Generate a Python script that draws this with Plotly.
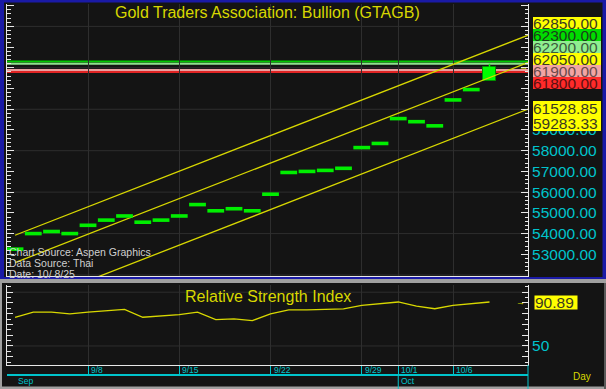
import plotly.graph_objects as go

W, H = 606, 389

# ---------------- data ----------------
dates = ['9/2', '9/3', '9/4', '9/5', '9/8', '9/9', '9/10', '9/11', '9/12',
         '9/15', '9/16', '9/17', '9/18', '9/19', '9/22', '9/23', '9/24', '9/25',
         '9/26', '9/29', '9/30', '10/1', '10/2', '10/3', '10/6', '10/7', '10/8']
open_ = [53250, 54000, 54100, 54000, 54400, 54650, 54850, 54550, 54650,
         54850, 55400, 55100, 55200, 55100, 55900, 56950, 57000, 57050,
         57150, 58150, 58350, 59550, 59400, 59200, 60450, 60950, 61350]
close = [53250, 54000, 54100, 54000, 54400, 54650, 54850, 54550, 54650,
         54850, 55400, 55100, 55200, 55100, 55900, 56950, 57000, 57050,
         57150, 58150, 58350, 59550, 59400, 59200, 60450, 60950, 62050]
high = [53250, 54000, 54100, 54000, 54400, 54650, 54850, 54550, 54650,
        54850, 55400, 55100, 55200, 55100, 55900, 56950, 57000, 57050,
        57150, 58150, 58350, 59550, 59400, 59200, 60450, 60950, 62200]
rsi = [76.7, 81.4, 81.4, 79.9, 81.4, 83.0, 84.0, 76.7, 77.7, 79.2, 81.4,
       74.5, 75.2, 73.6, 79.9, 83.6, 83.6, 84.0, 84.5, 87.7, 89.3, 90.9,
       87.1, 84.6, 87.7, 89.3, 90.89]

tick_dates = ['9/8', '9/15', '9/22', '9/29', '10/1', '10/6']
month_labels = ['Sep', 'Oct']
month_starts = ['9/2', '10/1']

level_values = [62300, 62200, 61900, 61800]
stack_values = [62850, 62300, 62200, 62050, 61900, 61800, 61528.85, 59283.33]
channel_upper_last = 62850
channel_mid_last = 61528.85
channel_lower_last = 59283.33
channel_slope = 343.5  # price per bar

price_ticks = list(range(52000, 65001, 1000))
price_labelled = list(range(53000, 59001, 1000))
price_grid = list(range(52000, 65001, 2000))
rsi_ticks = list(range(40, 101, 10))
rsi_labelled = [50]
rsi_grid = [50, 100]

title_text = 'Gold Traders Association: Bullion (GTAGB)'
rsi_title_text = 'Relative Strength Index'
source_lines = ['Chart Source: Aspen Graphics', 'Data Source: Thai', 'Date: 10/ 8/25']

# ---------------- styles ----------------
BG = '#141414'
GRID = '#2e2e2e'
YEL = '#d8d800'
CYAN = '#00c4cc'
GREEN = '#00ee00'
FONT = 'Liberation Sans, Arial, sans-serif'
level_colors = ['#00c800', '#8fe08f', '#e8a0a0', '#e02424']
stack_bg = ['#ffff00', '#00dc00', '#90ee90', '#ffff00', '#f2a4a4', '#ff2a2a', '#ffff00', '#ffff00']
stack_fg = ['#3a3a20', '#1c3c1c', '#3c5a3c', '#3a3a20', '#6a4a4a', '#5a1010', '#3a3a20', '#3a3a20']
stack_y = [22.7, 34.8, 46.8, 58.8, 70.8, 82.8, 108.5, 123.5]
stack_h = [12, 12, 12, 12, 12, 12, 15, 15]


def px(x):
    return x / W


def py(y):
    return 1 - y / H


X_RANGE = [-0.44, 28.11]
P_RANGE = [51953, 65080]
R_RANGE = [32.3, 106.7]

idx = list(range(len(dates)))
last = len(dates) - 1

fig = go.Figure()

# regression channel
for lv in (channel_upper_last, channel_mid_last, channel_lower_last):
    xs = [0, X_RANGE[1] + 0.2]
    ys = [lv - channel_slope * (last - xx) for xx in xs]
    fig.add_trace(go.Scatter(x=xs, y=ys, mode='lines',
                             line=dict(color=YEL, width=1.3),
                             xaxis='x', yaxis='y', hoverinfo='skip'))

# flat days drawn as dashes
flat = [i for i in idx if open_[i] == close[i]]
fig.add_trace(go.Scatter(x=flat, y=[close[i] for i in flat], mode='markers',
                         marker=dict(symbol='line-ew', size=12,
                                     line=dict(width=3.6, color=GREEN)),
                         xaxis='x', yaxis='y'))

# days with a range drawn as boxes + wick
moving = [i for i in idx if open_[i] != close[i]]
for i in moving:
    fig.add_trace(go.Scatter(x=[i, i], y=[max(open_[i], close[i]), high[i]],
                             mode='lines', line=dict(color='#00ff00', width=1.5),
                             xaxis='x', yaxis='y'))
fig.add_trace(go.Bar(x=moving, base=[min(open_[i], close[i]) for i in moving],
                     y=[abs(close[i] - open_[i]) for i in moving], width=0.68,
                     marker=dict(color='#00ff00', line=dict(color='#009000', width=1)),
                     xaxis='x', yaxis='y'))

# RSI
fig.add_trace(go.Scatter(x=idx, y=rsi, mode='lines',
                         line=dict(color=YEL, width=1.3),
                         xaxis='x2', yaxis='y2'))

tickpos = [dates.index(d) for d in tick_dates]

shapes = []
for v in price_grid:
    shapes.append(dict(type='line', xref='x domain', yref='y', x0=0, x1=1, y0=v, y1=v,
                       line=dict(color=GRID, width=1), layer='below'))
for v in rsi_grid:
    shapes.append(dict(type='line', xref='x2 domain', yref='y2', x0=0, x1=1, y0=v, y1=v,
                       line=dict(color=GRID, width=1), layer='below'))
for v, c in zip(level_values, level_colors):
    shapes.append(dict(type='line', xref='x domain', yref='y', x0=0, x1=1, y0=v, y1=v,
                       line=dict(color=c, width=2), layer='below'))


def rect(x0, y0, x1, y1, color):
    return dict(type='rect', xref='paper', yref='paper', x0=px(x0), x1=px(x1),
                y0=py(y1), y1=py(y0), fillcolor=color, line=dict(width=0))


BLUE = '#1a1aa6'
shapes += [rect(0, 0, 4, 279, BLUE), rect(0, 0, 606, 2.5, BLUE),
           rect(602.5, 0, 606, 279, BLUE), rect(0, 277, 606, 279, BLUE),
           rect(0, 279, 606, 283, '#a0a0a0'),
           rect(0, 283, 2, 389, '#a0a0a0'), rect(0, 386.5, 606, 389, '#a0a0a0'),
           rect(604, 283, 606, 389, '#5a5a5a')]
# time axis decorations
shapes.append(dict(type='line', xref='paper', yref='paper', x0=px(7), x1=px(528),
                   y0=py(375), y1=py(375), line=dict(color=CYAN, width=2)))
shapes.append(dict(type='line', xref='paper', yref='paper', x0=px(528), x1=px(528),
                   y0=py(365), y1=py(389), line=dict(color=CYAN, width=1)))
for m in month_starts[1:]:
    shapes.append(dict(type='line', xref='x2', yref='paper', x0=dates.index(m), x1=dates.index(m),
                       y0=py(375), y1=py(389), line=dict(color=CYAN, width=1)))

ann = []
ann.append(dict(text=title_text, xref='paper', yref='paper', x=px(267.5), y=py(13),
                xanchor='center', yanchor='middle', showarrow=False,
                font=dict(family=FONT, size=16, color=YEL)))
ann.append(dict(text=rsi_title_text, xref='paper', yref='paper', x=px(267.5), y=py(296),
                xanchor='center', yanchor='middle', showarrow=False,
                font=dict(family=FONT, size=16, color=YEL)))
for k, t in enumerate(source_lines):
    ann.append(dict(text=t, xref='paper', yref='paper', x=px(7), y=py(251.5 + 11 * k),
                    xanchor='left', yanchor='middle', showarrow=False,
                    font=dict(family=FONT, size=10.5, color='#d0d0d0')))
for v, bg, fg, yc, h in zip(stack_values, stack_bg, stack_fg, stack_y, stack_h):
    ann.append(dict(text=f'{v:.2f}', xref='paper', yref='paper', x=px(533), y=py(yc),
                    xanchor='left', yanchor='middle', showarrow=False, align='left',
                    width=68, height=h, bgcolor=bg, borderpad=0, borderwidth=0,
                    font=dict(family=FONT, size=15.5, color=fg)))
ann.append(dict(text=f'{rsi[-1]:.2f}', xref='paper', yref='y2', x=px(533.5), y=rsi[-1],
                xanchor='left', yanchor='middle', showarrow=False, align='left',
                width=42, height=13, bgcolor='#ffff00', borderpad=0,
                font=dict(family=FONT, size=15.5, color='#3a3a20')))
ann.append(dict(text='→', xref='paper', yref='y2', x=px(520), y=rsi[-1],
                xanchor='center', yanchor='middle', showarrow=False,
                font=dict(family=FONT, size=9, color=YEL)))
ann.append(dict(text='→', xref='paper', yref='y', x=px(523), y=close[-1],
                xanchor='center', yanchor='middle', showarrow=False,
                font=dict(family=FONT, size=9, color=YEL)))
for d, p in zip(tick_dates, tickpos):
    ann.append(dict(text=d, xref='x2', yref='paper', x=p, y=py(370), xshift=1,
                    xanchor='left', yanchor='middle', showarrow=False,
                    font=dict(family=FONT, size=8.5, color=CYAN)))
for m, s in zip(month_labels, month_starts):
    ann.append(dict(text=m, xref='x2', yref='paper', x=dates.index(s), y=py(381), xshift=1,
                    xanchor='left', yanchor='middle', showarrow=False,
                    font=dict(family=FONT, size=8.5, color=CYAN)))
ann.append(dict(text='Day', xref='paper', yref='paper', x=px(582), y=py(376.5),
                xanchor='center', yanchor='middle', showarrow=False,
                font=dict(family=FONT, size=10, color=YEL)))

price_text = [f'{v:.2f}' if v in price_labelled else '' for v in price_ticks]
rsi_text = [str(v) if v in rsi_labelled else '' for v in rsi_ticks]

fig.update_layout(
    width=W, height=H, margin=dict(l=0, r=0, t=0, b=0),
    paper_bgcolor=BG, plot_bgcolor=BG, showlegend=False,
    font=dict(family=FONT),
    xaxis=dict(domain=[px(7), px(528)], range=X_RANGE, anchor='y',
               tickmode='array', tickvals=tickpos, showticklabels=False, ticks='',
               showgrid=True, gridcolor=GRID, gridwidth=1, zeroline=False,
               showline=True, linecolor='#e8e8e8', linewidth=1),
    xaxis2=dict(domain=[px(7), px(528)], range=X_RANGE, anchor='y2', matches='x',
                tickmode='array', tickvals=tickpos, showticklabels=False,
                ticks='outside', ticklen=10, tickcolor=CYAN, tickwidth=1,
                showgrid=True, gridcolor=GRID, gridwidth=1, zeroline=False,
                showline=True, linecolor='#e8e8e8', linewidth=1),
    yaxis=dict(domain=[py(276), py(4)], range=P_RANGE, anchor='x', side='right',
               tickmode='array', tickvals=price_ticks, ticktext=price_text,
               ticks='inside', ticklen=7, tickcolor='#e8e8e8', tickwidth=1,
               showline=True, linecolor='#e8e8e8', linewidth=1, mirror='ticks',
               showgrid=False, zeroline=False,
               tickfont=dict(family=FONT, size=15.5, color=CYAN),
               minor=dict(tickmode='linear', tick0=0, dtick=200, ticks='inside',
                          ticklen=3.5, tickcolor='#e8e8e8', showgrid=False)),
    yaxis2=dict(domain=[py(365), py(285)], range=R_RANGE, anchor='x2', side='right',
                tickmode='array', tickvals=rsi_ticks, ticktext=rsi_text,
                ticks='inside', ticklen=6, tickcolor='#e8e8e8', tickwidth=1,
                showline=True, linecolor='#e8e8e8', linewidth=1, mirror='ticks',
                showgrid=False, zeroline=False,
                tickfont=dict(family=FONT, size=15.5, color=CYAN),
                minor=dict(tickmode='linear', tick0=0, dtick=5, ticks='inside',
                           ticklen=3.5, tickcolor='#e8e8e8', showgrid=False)),
    shapes=shapes, annotations=ann, bargap=0,
)

fig.write_html('out.html')
